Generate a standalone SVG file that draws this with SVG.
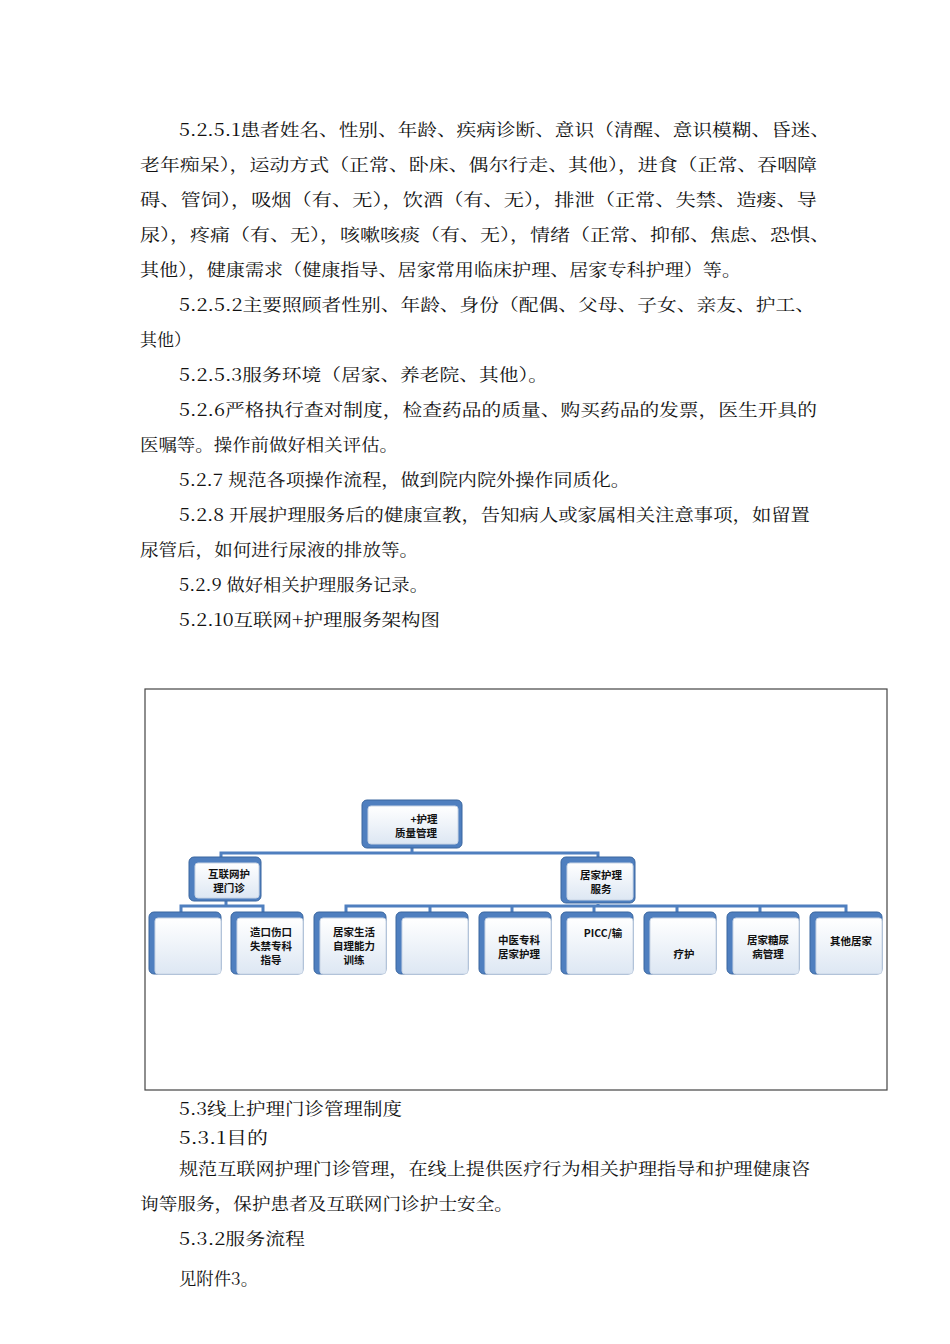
<svg xmlns="http://www.w3.org/2000/svg" width="950" height="1344" viewBox="0 0 950 1344">
<style>
.t{font-family:"Noto Serif CJK SC","Noto Sans CJK SC","Liberation Serif",serif;font-size:17px;fill:#111}
.n{font-family:"Noto Sans CJK SC",sans-serif;font-size:10.5px;font-weight:bold;fill:#111;text-anchor:middle}
.sh{fill:#4f7fbf;stroke:#3a669f;stroke-width:1}
.bx{fill:url(#g);stroke:#c8d4e4;stroke-width:1}
.c{stroke:#4f7fbf;stroke-width:3;fill:none}
</style>
<defs><linearGradient id="g" x1="0" y1="0" x2="0" y2="1"><stop offset="0" stop-color="#ffffff"/><stop offset="1" stop-color="#dde7f3"/></linearGradient></defs>
<rect width="950" height="1344" fill="#fff"/>
<g id="body-text">
<text class="t" x="179" y="136" textLength="651" lengthAdjust="spacingAndGlyphs">5.2.5.1患者姓名、性别、年龄、疾病诊断、意识（清醒、意识模糊、昏迷、</text>
<text class="t" x="140" y="171" textLength="677" lengthAdjust="spacingAndGlyphs">老年痴呆），运动方式（正常、卧床、偶尔行走、其他），进食（正常、吞咽障</text>
<text class="t" x="140" y="206" textLength="677" lengthAdjust="spacingAndGlyphs">碍、管饲），吸烟（有、无），饮酒（有、无），排泄（正常、失禁、造瘘、导</text>
<text class="t" x="140" y="241" textLength="690" lengthAdjust="spacingAndGlyphs">尿），疼痛（有、无），咳嗽咳痰（有、无），情绪（正常、抑郁、焦虑、恐惧、</text>
<text class="t" x="140" y="276" textLength="601" lengthAdjust="spacingAndGlyphs">其他），健康需求（健康指导、居家常用临床护理、居家专科护理）等。</text>
<text class="t" x="179" y="311" textLength="636" lengthAdjust="spacingAndGlyphs">5.2.5.2主要照顾者性别、年龄、身份（配偶、父母、子女、亲友、护工、</text>
<text class="t" x="140" y="346">其他）</text>
<text class="t" x="179" y="381" textLength="369" lengthAdjust="spacingAndGlyphs">5.2.5.3服务环境（居家、养老院、其他）。</text>
<text class="t" x="179" y="416" textLength="638" lengthAdjust="spacingAndGlyphs">5.2.6严格执行查对制度，检查药品的质量、购买药品的发票，医生开具的</text>
<text class="t" x="140" y="451" textLength="258" lengthAdjust="spacingAndGlyphs">医嘱等。操作前做好相关评估。</text>
<text class="t" x="179" y="486" textLength="451" lengthAdjust="spacingAndGlyphs">5.2.7 规范各项操作流程，做到院内院外操作同质化。</text>
<text class="t" x="179" y="521" textLength="631" lengthAdjust="spacingAndGlyphs">5.2.8 开展护理服务后的健康宣教，告知病人或家属相关注意事项，如留置</text>
<text class="t" x="140" y="556" textLength="278" lengthAdjust="spacingAndGlyphs">尿管后，如何进行尿液的排放等。</text>
<text class="t" x="179" y="591" textLength="249" lengthAdjust="spacingAndGlyphs">5.2.9 做好相关护理服务记录。</text>
<text class="t" x="179" y="626" textLength="261" lengthAdjust="spacingAndGlyphs">5.2.10互联网+护理服务架构图</text>
<text class="t" x="179" y="1115" textLength="223" lengthAdjust="spacingAndGlyphs">5.3线上护理门诊管理制度</text>
<text class="t" x="179" y="1144" textLength="89" lengthAdjust="spacingAndGlyphs">5.3.1目的</text>
<text class="t" x="179" y="1175" textLength="631" lengthAdjust="spacingAndGlyphs">规范互联网护理门诊管理，在线上提供医疗行为相关护理指导和护理健康咨</text>
<text class="t" x="140" y="1210" textLength="373" lengthAdjust="spacingAndGlyphs">询等服务，保护患者及互联网门诊护士安全。</text>
<text class="t" x="179" y="1245" textLength="126" lengthAdjust="spacingAndGlyphs">5.3.2服务流程</text>
<text class="t" x="179" y="1285" textLength="79" lengthAdjust="spacingAndGlyphs">见附件3。</text>
</g>
<rect x="145" y="689" width="742" height="401" fill="none" stroke="#444" stroke-width="1.2"/>
<g id="connectors">
<path class="c" d="M412 848V853M221 859V853H598V859M226 901V906M181 913V906H263V913M598 904V906M346 913V906H846V913M430 906V913M512 906V913M594 906V913M677 906V913M760 906V913"/>
</g>
<g id="root"><rect class="sh" x="362" y="800" width="100" height="48" rx="5"/><rect class="bx" x="368" y="806" width="90" height="38" rx="3"/><text class="n" x="424" y="823">+护理</text><text class="n" x="416" y="837">质量管理</text></g>
<g id="n-clinic"><rect class="sh" x="189" y="857" width="72" height="44" rx="5"/><rect class="bx" x="195" y="863" width="64" height="35" rx="3"/><text class="n" x="229" y="878">互联网护</text><text class="n" x="229" y="892">理门诊</text></g>
<g id="n-home"><rect class="sh" x="561" y="857" width="74" height="46" rx="5"/><rect class="bx" x="567" y="863" width="66" height="37" rx="3"/><text class="n" x="601" y="879">居家护理</text><text class="n" x="601" y="893">服务</text></g>
<g id="leaf1"><rect class="sh" x="149" y="912" width="72" height="62" rx="5"/><rect class="bx" x="155" y="918" width="66" height="56" rx="3"/></g>
<g id="leaf2"><rect class="sh" x="231" y="912" width="72" height="62" rx="5"/><rect class="bx" x="237" y="918" width="66" height="56" rx="3"/><text class="n" x="271" y="936">造口伤口</text><text class="n" x="271" y="950">失禁专科</text><text class="n" x="271" y="964">指导</text></g>
<g id="leaf3"><rect class="sh" x="314" y="912" width="72" height="62" rx="5"/><rect class="bx" x="320" y="918" width="66" height="56" rx="3"/><text class="n" x="354" y="936">居家生活</text><text class="n" x="354" y="950">自理能力</text><text class="n" x="354" y="964">训练</text></g>
<g id="leaf4"><rect class="sh" x="396" y="912" width="72" height="62" rx="5"/><rect class="bx" x="402" y="918" width="66" height="56" rx="3"/></g>
<g id="leaf5"><rect class="sh" x="479" y="912" width="72" height="62" rx="5"/><rect class="bx" x="485" y="918" width="66" height="56" rx="3"/><text class="n" x="519" y="944">中医专科</text><text class="n" x="519" y="958">居家护理</text></g>
<g id="leaf6"><rect class="sh" x="561" y="912" width="72" height="62" rx="5"/><rect class="bx" x="567" y="918" width="66" height="56" rx="3"/><text class="n" x="603" y="937">PICC/输</text></g>
<g id="leaf7"><rect class="sh" x="644" y="912" width="72" height="62" rx="5"/><rect class="bx" x="650" y="918" width="66" height="56" rx="3"/><text class="n" x="684" y="958">疗护</text></g>
<g id="leaf8"><rect class="sh" x="727" y="912" width="72" height="62" rx="5"/><rect class="bx" x="733" y="918" width="66" height="56" rx="3"/><text class="n" x="768" y="944">居家糖尿</text><text class="n" x="768" y="958">病管理</text></g>
<g id="leaf9"><rect class="sh" x="810" y="912" width="72" height="62" rx="5"/><rect class="bx" x="816" y="918" width="66" height="56" rx="3"/><text class="n" x="851" y="945">其他居家</text></g>
</svg>
